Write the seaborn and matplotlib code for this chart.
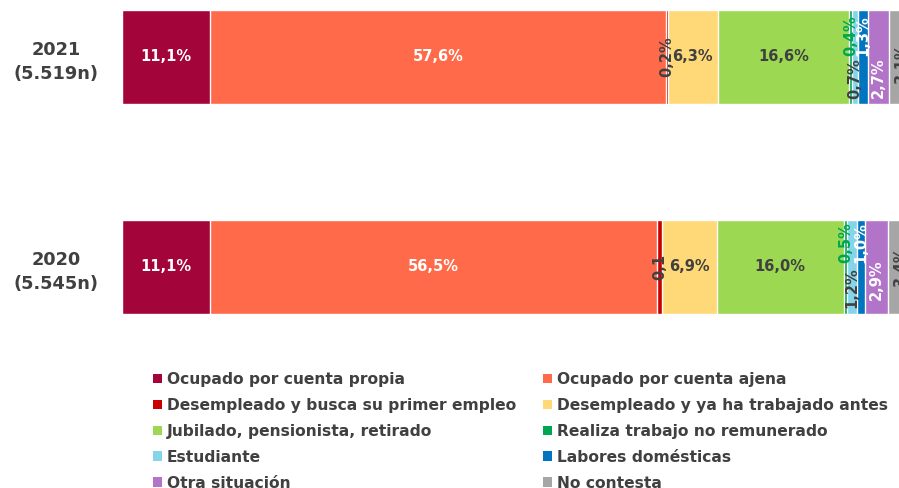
import numpy as np
import pandas as pd
import matplotlib
matplotlib.use("Agg")
import matplotlib.pyplot as plt
import seaborn as sns
from matplotlib.patches import Patch

# ---------------- data ----------------
years = ["2021\n(5.519n)", "2020\n(5.545n)"]
categories = [
    "Ocupado por cuenta propia",
    "Ocupado por cuenta ajena",
    "Desempleado y busca su primer empleo",
    "Desempleado y ya ha trabajado antes",
    "Jubilado, pensionista, retirado",
    "Realiza trabajo no remunerado",
    "Estudiante",
    "Labores domésticas",
    "Otra situación",
    "No contesta",
]
values_2021 = [11.1, 57.6, 0.2, 6.3, 16.6, 0.4, 0.7, 1.3, 2.7, 3.1]
values_2020 = [11.1, 56.5, 0.6, 6.9, 16.0, 0.5, 1.2, 1.0, 2.9, 3.3]
labels_2021 = ["11,1%", "57,6%", "0,2%", "6,3%", "16,6%", "0,4%", "0,7%", "1,3%", "2,7%", "3,1%"]
labels_2020 = ["11,1%", "56,5%", "0,1", "6,9%", "16,0%", "0,5%", "1,2%", "1,0%", "2,9%", "3,4%"]

# ---------------- styles ----------------
colors = ["#A3043A", "#FF6B4A", "#C80000", "#FFD878", "#9CD852",
          "#00A651", "#84D4EA", "#0075BF", "#B274C8", "#A6A6A6"]
DARK = "#404040"
text_colors = ["white", "white", DARK, DARK, DARK, "#00A651", DARK, "white", "white", DARK]
rotated = [False, False, True, False, False, True, True, True, True, True]
y_offsets = [
    [0, 0, 0, 0, 0, -0.10, 0.105, -0.10, 0.10, 0.03],
    [0, 0, 0, 0, 0, -0.115, 0.10, -0.115, 0.06, 0.0],
]

sns.set_theme(style="white")
plt.rcParams["font.family"] = ["DejaVu Sans"]

fig = plt.figure(figsize=(8.99, 4.88), dpi=100)
ax = fig.add_axes([122 / 899, 1 - 330 / 488, 792 / 899, 330 / 488])

vals = np.array([values_2021, values_2020])
cum = np.cumsum(vals, axis=1)

for i in range(len(categories) - 1, -1, -1):
    df = pd.DataFrame({"year": years, "value": cum[:, i]})
    sns.barplot(data=df, x="value", y="year", order=years, orient="h",
                color=colors[i], saturation=1, width=0.45,
                edgecolor="white", linewidth=1.0, ax=ax)

all_labels = [labels_2021, labels_2020]
for r in range(len(years)):
    for i in range(len(categories)):
        xc = cum[r, i] - vals[r, i] / 2
        ax.text(xc, r + y_offsets[r][i], all_labels[r][i],
                ha="center", va="center", rotation=90 if rotated[i] else 0,
                color=text_colors[i], fontsize=10.5, fontweight="bold",
                clip_on=False)

ax.set_xlim(0, 100)
ax.set_ylim(1.3, -0.271)
ax.set_xlabel("")
ax.set_ylabel("")
ax.set_xticks([])
for s in ax.spines.values():
    s.set_visible(False)
ax.tick_params(axis="y", length=0, pad=17)
for t in ax.get_yticklabels():
    t.set_fontsize(12.8)
    t.set_fontweight("bold")
    t.set_color(DARK)
    t.set_multialignment("center")
    t.set_linespacing(1.45)

handles = [Patch(facecolor=c, edgecolor="none", label=l) for c, l in zip(colors, categories)]
order = [0, 2, 4, 6, 8, 1, 3, 5, 7, 9]
fig.legend([handles[k] for k in order], [categories[k] for k in order],
           ncol=2, loc="upper left", bbox_to_anchor=(153 / 899, 1 - 372 / 488),
           frameon=False, prop={"size": 11.2, "weight": "bold"}, labelcolor=DARK,
           handlelength=0.55, handleheight=0.55, handletextpad=0.35,
           columnspacing=1.75, labelspacing=0.7, borderpad=0, borderaxespad=0)

fig.savefig("out.png", dpi=100)
